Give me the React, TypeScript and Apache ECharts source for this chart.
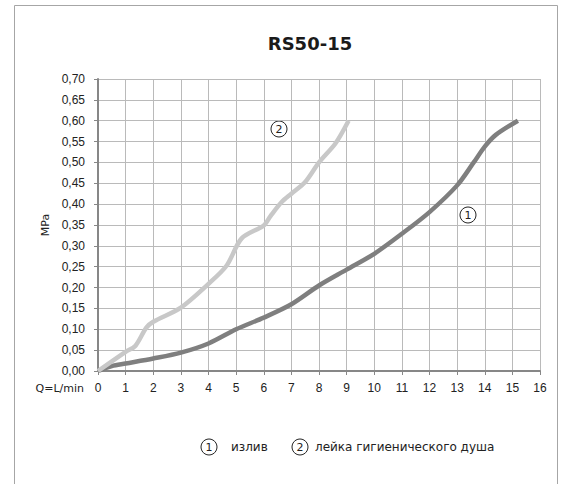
import React, { useEffect, useRef } from "react";
import * as echarts from "echarts";

const title = "RS50-15";
const xTicks = { min: 0, max: 16, interval: 1 };
const yTicks = { min: 0, max: 0.7, interval: 0.05 };
const seriesNames = ["излив", "лейка гигиенического душа"];
const spoutFlow = [0, 0.5, 1, 2, 3, 4, 5, 6, 7, 8, 9, 10, 11, 12, 13, 13.6, 14, 14.4, 15.2];
const spoutPressure = [0, 0.012, 0.018, 0.03, 0.044, 0.066, 0.1, 0.128, 0.16, 0.205, 0.243, 0.281, 0.329, 0.381, 0.445, 0.5, 0.538, 0.566, 0.6];
const showerFlow = [0, 1, 1.35, 1.75, 2, 3, 4, 4.66, 5.2, 6, 6.25, 6.65, 7, 7.5, 8, 8.6, 9.07];
const showerPressure = [0, 0.046, 0.06, 0.104, 0.118, 0.152, 0.209, 0.253, 0.318, 0.349, 0.372, 0.405, 0.425, 0.453, 0.5, 0.546, 0.6];
const yAxisName = "MPa";
const xAxisName = "Q=L/min";

const zip = (xs: number[], ys: number[]) => xs.map((x, i) => [x, ys[i]]);

export default function App() {
  const ref = useRef<HTMLDivElement>(null);
  useEffect(() => {
    if (!ref.current) return;
    const chart = echarts.init(ref.current, null, { renderer: "svg" });
    const font = "DejaVu Sans";
    const circled = (x: number, y: number, label: string) => ({
      type: "group",
      x,
      y,
      children: [
        { type: "circle", shape: { cx: 0, cy: 0, r: 8 }, style: { fill: "#fff", stroke: "#222", lineWidth: 1 } },
        { type: "text", x: 0, y: 0, style: { text: label, fontSize: 11, fontFamily: font, fill: "#222", align: "center", verticalAlign: "middle" } },
      ],
    });
    chart.setOption({
      animation: false,
      backgroundColor: "#fff",
      title: {
        text: title,
        left: 305,
        textAlign: "center",
        top: 29,
        textStyle: { fontFamily: font, fontWeight: "bold", fontSize: 18, color: "#1a1a1a" },
      },
      grid: { left: 98, right: 25, top: 79, bottom: 113, containLabel: false },
      xAxis: {
        type: "value",
        min: xTicks.min,
        max: xTicks.max,
        interval: xTicks.interval,
        axisLine: { show: true, lineStyle: { color: "#878787", width: 2 } },
        axisTick: { show: true, length: 4, lineStyle: { color: "#878787" } },
        axisLabel: { margin: 11, fontSize: 12, fontFamily: "Liberation Sans", color: "#222" },
        splitLine: { show: true, lineStyle: { color: "#bababa", width: 1 } },
      },
      yAxis: {
        type: "value",
        min: yTicks.min,
        max: yTicks.max,
        interval: yTicks.interval,
        name: yAxisName,
        nameLocation: "middle",
        nameGap: 46,
        nameTextStyle: { fontSize: 11, fontFamily: font, color: "#222" },
        axisLine: { show: true, lineStyle: { color: "#878787", width: 2 } },
        axisTick: { show: true, length: 4, lineStyle: { color: "#878787" } },
        axisLabel: {
          margin: 13,
          fontSize: 12,
          fontFamily: "Liberation Sans",
          color: "#222",
          formatter: (v: number) => v.toFixed(2).replace(".", ","),
        },
        splitLine: { show: true, lineStyle: { color: "#bababa", width: 1 } },
      },
      series: [
        {
          name: seriesNames[0],
          type: "line",
          data: zip(spoutFlow, spoutPressure),
          smooth: 0.3,
          showSymbol: false,
          lineStyle: { color: "#7f7f7f", width: 4.5 },
          itemStyle: { color: "#7f7f7f" },
        },
        {
          name: seriesNames[1],
          type: "line",
          data: zip(showerFlow, showerPressure),
          smooth: 0.3,
          showSymbol: false,
          lineStyle: { color: "#c8c8c8", width: 4.5 },
          itemStyle: { color: "#c8c8c8" },
        },
      ],
      graphic: [
        {
          type: "rect",
          shape: { x: 14.5, y: 5.5, width: 543, height: 500 },
          style: { fill: "none", stroke: "#a6a6a6", lineWidth: 1 },
          silent: true,
        },
        {
          type: "text",
          x: 84,
          y: 388,
          style: { text: xAxisName, fontSize: 11, fontFamily: font, fill: "#222", align: "right", verticalAlign: "middle" },
        },
        circled(279, 129, "2"),
        circled(468, 215, "1"),
        circled(209, 447, "1"),
        {
          type: "text",
          x: 231,
          y: 447,
          style: { text: seriesNames[0], fontSize: 12, fontFamily: font, fill: "#222", align: "left", verticalAlign: "middle" },
        },
        circled(300, 447, "2"),
        {
          type: "text",
          x: 315,
          y: 447,
          style: { text: seriesNames[1], fontSize: 12, fontFamily: font, fill: "#222", align: "left", verticalAlign: "middle" },
        },
      ],
    });
    return () => chart.dispose();
  }, []);
  return <div ref={ref} style={{ width: 565, height: 484, position: "absolute", left: 0, top: 0 }} />;
}
